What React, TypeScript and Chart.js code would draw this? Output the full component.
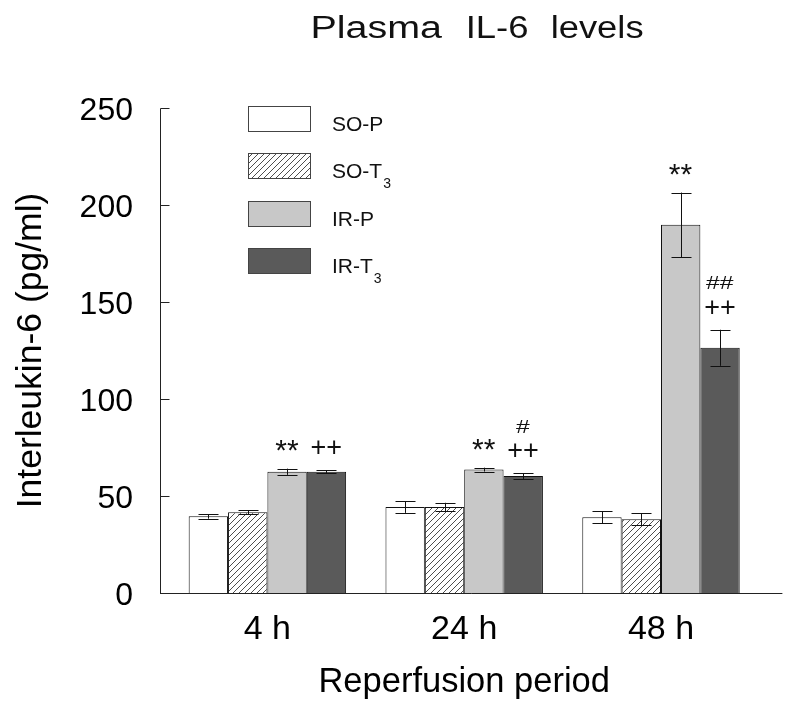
import { useEffect, useRef } from "react";
import { Chart, registerables } from "chart.js";

Chart.register(...registerables);

// ---------- data ----------
const categories = ["4 h", "24 h", "48 h"];
const seriesLabels = ["SO-P", "SO-T₃", "IR-P", "IR-T₃"];
const legendMain = ["SO-P", "SO-T", "IR-P", "IR-T"];
const legendSub = ["", "3", "", "3"];

const soP = [39.5, 44.3, 39.0];
const soT3 = [41.6, 44.3, 38.0];
const irP = [62.5, 63.6, 189.8];
const irT3 = [62.5, 60.3, 126.4];

const soPErr = [1.2, 3.0, 3.1];
const soT3Err = [1.0, 2.2, 3.2];
const irPErr = [1.6, 1.0, 16.6];
const irT3Err = [0.9, 1.5, 9.3];

// significance marks, listed from the bar upward
const soPMarks: string[][] = [[], [], []];
const soT3Marks: string[][] = [[], [], []];
const irPMarks: string[][] = [["**"], ["**"], ["**"]];
const irT3Marks: string[][] = [["++"], ["++", "#"], ["++", "##"]];

const yTicks = [0, 50, 100, 150, 200, 250];

const titleWords = ["Plasma", "IL-6", "levels"];

const FONT = "'Liberation Sans', Arial, Helvetica, sans-serif";

function makeHatch(): CanvasPattern | string {
  const c = document.createElement("canvas");
  c.width = 12;
  c.height = 12;
  const g = c.getContext("2d");
  if (!g) return "#fff";
  g.fillStyle = "#ffffff";
  g.fillRect(0, 0, 12, 12);
  g.strokeStyle = "#3a3a3a";
  g.lineWidth = 0.9;
  for (let x0 = 0; x0 <= 24; x0 += 6) {
    g.beginPath();
    g.moveTo(x0, 0);
    g.lineTo(x0 - 12, 12);
    g.stroke();
  }
  return g.createPattern(c, "repeat") || "#fff";
}

function drawCentered(ctx: CanvasRenderingContext2D, text: string, font: string, cx: number, cy: number, sx = 1) {
  ctx.save();
  ctx.font = font;
  const m = ctx.measureText(text);
  const x = -(m.actualBoundingBoxRight - m.actualBoundingBoxLeft) / 2;
  const y = (m.actualBoundingBoxAscent - m.actualBoundingBoxDescent) / 2;
  ctx.translate(cx, cy);
  ctx.scale(sx, 1);
  ctx.textAlign = "left";
  ctx.textBaseline = "alphabetic";
  ctx.fillText(text, x, y);
  ctx.restore();
}

function drawFitText(ctx: CanvasRenderingContext2D, text: string, font: string, left: number, baseline: number, width: number) {
  ctx.save();
  ctx.font = font;
  const m = ctx.measureText(text);
  const ink = m.actualBoundingBoxLeft + m.actualBoundingBoxRight;
  const sx = width / ink;
  ctx.translate(left, baseline);
  ctx.scale(sx, 1);
  ctx.textAlign = "left";
  ctx.textBaseline = "alphabetic";
  ctx.fillText(text, m.actualBoundingBoxLeft, 0);
  ctx.restore();
}

export default function App() {
  const ref = useRef<HTMLCanvasElement | null>(null);

  useEffect(() => {
    const canvas = ref.current;
    if (!canvas) return;
    Chart.defaults.font.family = FONT;
    Chart.defaults.color = "#000";

    const hatch = makeHatch();
    const values = [soP, soT3, irP, irT3];
    const errs = [soPErr, soT3Err, irPErr, irT3Err];
    const marks = [soPMarks, soT3Marks, irPMarks, irT3Marks];
    const fills: (string | CanvasPattern)[] = ["#ffffff", hatch, "#c8c8c8", "#5a5a5a"];

    const extras = {
      id: "extras",
      afterDatasetsDraw(chart: any) {
        const ctx: CanvasRenderingContext2D = chart.ctx;
        const y = chart.scales.y;
        const area = chart.chartArea;
        ctx.save();

        // error bars
        ctx.strokeStyle = "#111";
        ctx.lineWidth = 1;
        values.forEach((vals, di) => {
          const meta = chart.getDatasetMeta(di);
          vals.forEach((v, j) => {
            const bar = meta.data[j];
            const x = Math.round(bar.x) + 0.5;
            const top = y.getPixelForValue(v + errs[di][j]);
            const bot = y.getPixelForValue(v - errs[di][j]);
            ctx.beginPath();
            ctx.moveTo(x, top);
            ctx.lineTo(x, bot);
            ctx.moveTo(x - 10, Math.round(top) + 0.5);
            ctx.lineTo(x + 10, Math.round(top) + 0.5);
            ctx.moveTo(x - 10, Math.round(bot) + 0.5);
            ctx.lineTo(x + 10, Math.round(bot) + 0.5);
            ctx.stroke();
          });
        });

        // significance marks
        ctx.fillStyle = "#111";
        marks.forEach((mk, di) => {
          const meta = chart.getDatasetMeta(di);
          mk.forEach((lines, j) => {
            const bar = meta.data[j];
            let cy = y.getPixelForValue(values[di][j] + errs[di][j]) - 23;
            lines.forEach((t) => {
              if (t.startsWith("*")) drawCentered(ctx, t, `30px ${FONT}`, bar.x, cy);
              else if (t.startsWith("#")) drawCentered(ctx, t, `19px ${FONT}`, bar.x, cy, 1.3);
              else drawCentered(ctx, t, `27px ${FONT}`, bar.x, cy);
              cy -= 24;
            });
          });
        });

        // axes lines
        ctx.strokeStyle = "#222";
        ctx.lineWidth = 1;
        const axX = area.left - 8.5;
        const y0 = Math.round(y.getPixelForValue(0)) + 0.5;
        const yTop = Math.round(y.getPixelForValue(250)) + 0.5;
        ctx.beginPath();
        ctx.moveTo(axX, yTop);
        ctx.lineTo(axX, y0);
        ctx.moveTo(axX - 0.5, y0);
        ctx.lineTo(area.right + 23, y0);
        yTicks.forEach((t) => {
          const py = Math.round(y.getPixelForValue(t)) + 0.5;
          ctx.moveTo(axX, py);
          ctx.lineTo(axX + 9, py);
        });
        ctx.stroke();

        // legend
        const lx = 240;
        const ly0 = 98;
        const step = 47.3;
        legendMain.forEach((name, i) => {
          const top = Math.round(ly0 + i * step) + 0.5;
          ctx.fillStyle = fills[i] as any;
          ctx.fillRect(lx + 0.5, top, 62, 25);
          ctx.strokeStyle = "#444";
          ctx.lineWidth = 1;
          ctx.strokeRect(lx + 0.5, top, 62, 25);
          ctx.fillStyle = "#111";
          ctx.font = `21px ${FONT}`;
          ctx.textAlign = "left";
          ctx.textBaseline = "alphabetic";
          const base = top + 24;
          ctx.fillText(name, 324, base);
          if (legendSub[i]) {
            const w = ctx.measureText(name).width;
            ctx.font = `14px ${FONT}`;
            ctx.fillText(legendSub[i], 324 + w + 1, base + 10);
          }
        });

        // title (three words, slightly widened like the original)
        ctx.fillStyle = "#111";
        const wordLeft = [305, 460, 545];
        const wordWidth = [130, 59, 90];
        titleWords.forEach((w, i) => {
          drawFitText(ctx, w, `31px ${FONT}`, wordLeft[i], 30, wordWidth[i]);
        });

        ctx.restore();
      },
    };

    const chart = new Chart(canvas, {
      type: "bar",
      data: {
        labels: categories,
        datasets: values.map((vals, i) => ({
          label: seriesLabels[i],
          data: vals,
          backgroundColor: fills[i] as any,
          borderColor: "#111",
          borderWidth: 1,
          categoryPercentage: 0.8,
          barPercentage: 1.0,
        })),
      },
      options: {
        animation: false,
        responsive: false,
        devicePixelRatio: 1,
        layout: { padding: { top: 100, right: 24.6, left: 0, bottom: 0 } },
        plugins: {
          legend: { display: false },
          title: { display: false },
          tooltip: { enabled: false },
        },
        scales: {
          x: {
            type: "category",
            grid: { display: false, drawTicks: false },
            border: { display: false },
            ticks: { font: { size: 34, family: FONT }, color: "#000", padding: 16 },
            title: {
              display: true,
              text: "Reperfusion period",
              font: { size: 34.5, family: FONT },
              color: "#000",
              padding: { top: 0, bottom: 5 },
            },
            afterFit: (s: any) => {
              s.height = 115;
            },
          },
          y: {
            min: 0,
            max: 250,
            grid: { display: false, drawTicks: false },
            border: { display: false },
            afterBuildTicks: (s: any) => {
              s.ticks = yTicks.map((v) => ({ value: v }));
            },
            ticks: { font: { size: 32, family: FONT }, color: "#000", padding: 36, labelOffset: 3 },
            title: {
              display: true,
              text: "Interleukin-6 (pg/ml)",
              font: { size: 35.5, family: FONT },
              color: "#000",
              padding: { top: 2, bottom: 0 },
            },
            afterFit: (s: any) => {
              s.width = 161;
            },
          },
        },
      },
      plugins: [extras],
    } as any);

    return () => chart.destroy();
  }, []);

  return (
    <div style={{ width: 776, height: 700 }}>
      <canvas ref={ref} width={776} height={700} style={{ display: "block", width: 776, height: 700 }} />
    </div>
  );
}
